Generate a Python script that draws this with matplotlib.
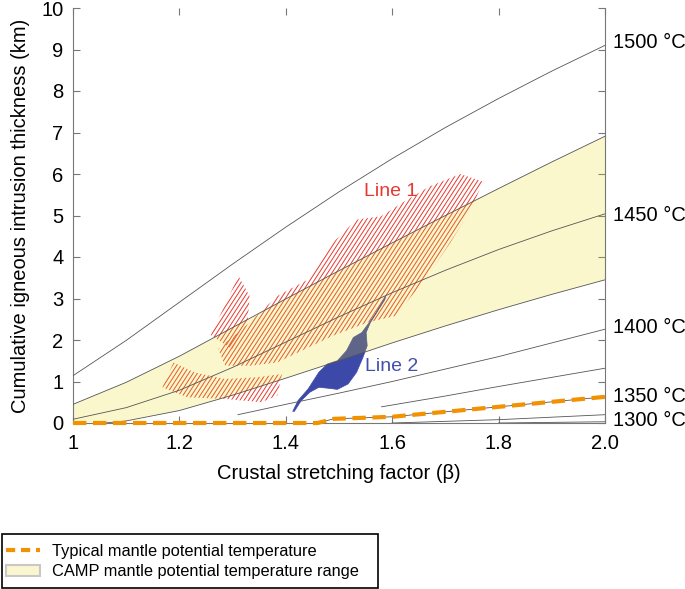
import numpy as np
import matplotlib
matplotlib.use("Agg")
import matplotlib.pyplot as plt
from matplotlib.patches import Polygon, Patch, Rectangle
from matplotlib.lines import Line2D
from matplotlib.collections import LineCollection

plt.rcParams['font.family'] = ['Liberation Sans', 'DejaVu Sans']

# ---------------- data ----------------
beta_grid = [1.0, 1.1, 1.2, 1.3, 1.4, 1.5, 1.6, 1.7, 1.8, 1.9, 2.0]
t1500 = [1.14, 1.99, 2.91, 3.83, 4.72, 5.57, 6.37, 7.12, 7.82, 8.48, 9.10]
t1475 = [0.45, 0.98, 1.61, 2.30, 2.99, 3.67, 4.34, 5.00, 5.65, 6.29, 6.91]
t1450 = [0.09, 0.37, 0.79, 1.34, 1.95, 2.56, 3.14, 3.68, 4.18, 4.63, 5.04]

b1425 = [1.06, 1.1, 1.2, 1.3, 1.4, 1.5, 1.6, 1.7, 1.8, 1.9, 2.0]
t1425 = [0.0, 0.05, 0.30, 0.67, 1.08, 1.50, 1.93, 2.34, 2.73, 3.10, 3.45]

b1400 = [1.31, 1.4, 1.5, 1.6, 1.7, 1.8, 1.9, 2.0]
t1400 = [0.20, 0.45, 0.72, 1.00, 1.30, 1.60, 1.93, 2.26]

b1375 = [1.58, 1.7, 1.8, 1.9, 2.0]
t1375 = [0.39, 0.65, 0.88, 1.10, 1.32]

b1350 = [1.46, 1.49, 1.6, 1.7, 1.8, 1.9, 2.0]
t1350 = [0.0, 0.10, 0.15, 0.27, 0.39, 0.51, 0.63]

b1325 = [1.6, 1.8, 2.0]
t1325 = [0.0, 0.08, 0.20]

b1300 = [1.8, 2.0]
t1300 = [0.0, 0.03]

temp_labels = ['1500 °C', '1450 °C', '1400 °C', '1350 °C', '1300 °C']
temp_label_y = [9.16, 5.0, 2.3, 0.65, 0.05]

legend_labels = ['Typical mantle potential temperature',
                 'CAMP mantle potential temperature range']

# Line 1 (hatched regions), beta / km
line1_a_beta = [1.259, 1.311, 1.332, 1.328, 1.299]
line1_a_km = [2.12, 3.54, 3.06, 2.42, 1.78]
line1_b_beta = [1.273, 1.332, 1.384, 1.442, 1.488, 1.533, 1.579, 1.618, 1.670, 1.728,
                1.770, 1.754, 1.709, 1.657, 1.605, 1.553, 1.488, 1.436, 1.384, 1.332, 1.286]
line1_b_km = [1.78, 2.42, 3.06, 3.46, 4.34, 4.90, 4.98, 5.30, 5.70, 6.00,
              5.82, 5.30, 4.34, 3.38, 2.58, 2.42, 2.10, 1.78, 1.46, 1.38, 1.38]
line1_c_beta = [1.168, 1.189, 1.228, 1.286, 1.345, 1.393, 1.384, 1.354, 1.286, 1.215]
line1_c_km = [0.86, 1.46, 1.22, 1.06, 1.10, 1.18, 0.66, 0.50, 0.58, 0.62]

# Line 2 (solid region)
line2_beta = [1.413, 1.423, 1.442, 1.462, 1.478, 1.497, 1.514, 1.527, 1.543, 1.566, 1.588,
              1.586, 1.559, 1.551, 1.553, 1.545, 1.533, 1.517, 1.497, 1.478, 1.462, 1.445,
              1.429, 1.416]
line2_km = [0.28, 0.54, 0.82, 1.22, 1.42, 1.50, 1.74, 2.06, 2.18, 2.58, 3.06,
            2.97, 2.42, 2.18, 1.86, 1.58, 1.22, 0.94, 0.81, 0.84, 0.86, 0.74,
            0.54, 0.28]

# ---------------- figure ----------------
W, H = 685, 589
fig = plt.figure(figsize=(W / 100, H / 100), dpi=100)
ax = fig.add_axes([73 / W, 1 - 423 / H, (605 - 73) / W, (423 - 8) / H])
ax.set_xlim(1, 2)
ax.set_ylim(0, 10)

red = '#e8392f'
blue = '#3d49a8'
curve_c = '#555555'
orange = '#f39200'


def hatch_region(xs, ys, color, spacing=3.6, angle=57, lw=0.7):
    poly = Polygon(np.column_stack([xs, ys]), closed=True, facecolor='none',
                   edgecolor='none', transform=ax.transData)
    ax.add_patch(poly)
    pts = ax.transData.transform(np.column_stack([xs, ys]))
    a = np.deg2rad(angle)
    d = np.array([np.cos(a), np.sin(a)])
    n = np.array([-np.sin(a), np.cos(a)])
    proj = pts @ n
    L = 2000
    inv = ax.transData.inverted()
    segs = []
    for o in np.arange(proj.min() - spacing, proj.max() + spacing, spacing):
        c = o * n
        segs.append(inv.transform(np.vstack([c - L * d, c + L * d])))
    lc = LineCollection(segs, colors=color, linewidths=lw, zorder=1)
    lc.set_clip_path(poly)
    ax.add_collection(lc)


for xs, ys in [(line1_a_beta, line1_a_km), (line1_b_beta, line1_b_km), (line1_c_beta, line1_c_km)]:
    hatch_region(xs, ys, red)

ax.add_patch(Polygon(np.column_stack([line2_beta, line2_km]), closed=True,
                     facecolor=blue, edgecolor=blue, linewidth=0.5, zorder=1.5))

# CAMP band
bg = np.array(beta_grid)
lower = np.interp(bg, b1425, t1425, left=0.0)
ax.fill_between(bg, lower, t1475, facecolor=(230 / 255, 215 / 255, 5 / 255), alpha=0.2,
                linewidth=0, zorder=2)

for bx, ty in [(beta_grid, t1500), (beta_grid, t1475), (beta_grid, t1450), (b1425, t1425),
               (b1400, t1400), (b1375, t1375), (b1350, t1350), (b1325, t1325), (b1300, t1300)]:
    ax.plot(bx, ty, color=curve_c, lw=0.6, zorder=3)

typ_beta = [1.0] + b1350
typ_km = [0.0] + t1350
ax.plot(typ_beta, typ_km, color=orange, lw=3.0, dashes=(3.2, 1.6), zorder=4, clip_on=False,
        solid_capstyle='butt', dash_capstyle='butt')

for lab, yv in zip(temp_labels, temp_label_y):
    ax.annotate(lab, xy=(1, yv), xycoords=('axes fraction', 'data'), xytext=(6, 0),
                textcoords='offset points', va='center', ha='left', fontsize=14.5)

ax.text(1.547, 5.58, 'Line 1', color=red, fontsize=14, va='center', ha='left', zorder=5)
ax.text(1.549, 1.37, 'Line 2', color='#4350ad', fontsize=14, va='center', ha='left', zorder=5)

ax.set_xticks([1, 1.2, 1.4, 1.6, 1.8, 2.0])
ax.set_xticklabels(['1', '1.2', '1.4', '1.6', '1.8', '2.0'])
ax.set_yticks(range(0, 11))
ax.tick_params(direction='in', length=5, width=0.8, color='#777777', top=True, right=True,
               labelsize=14.5, labelright=False)
ax.tick_params(axis='x', pad=8)
ax.tick_params(axis='y', pad=7)
ax.spines['top'].set_visible(False)
for s in ['left', 'right', 'bottom']:
    ax.spines[s].set_color('#777777')
    ax.spines[s].set_linewidth(0.8)

ax.set_xlabel('Crustal stretching factor (β)', fontsize=14.5, labelpad=8)
ax.set_ylabel('Cumulative igneous intrusion thickness (km)', fontsize=14.5, labelpad=8)

# legend box (frame drawn separately)
fig.patches.append(Rectangle((1.5 / W, 1 - 588 / H), 376 / W, 54 / H, transform=fig.transFigure,
                             facecolor='white', edgecolor='black', linewidth=1.2, zorder=0))
handles = [Line2D([0], [0], color=orange, lw=3.0, dashes=(2.2, 1.4)),
           Patch(facecolor='#faf6cf', edgecolor='#c8c8c8', linewidth=1.5)]
leg = fig.legend(handles, legend_labels, loc='upper left',
                 bbox_to_anchor=(6 / W, 1 - 544 / H), fontsize=11.8, frameon=False,
                 handlelength=2.1, handletextpad=0.7, borderpad=0, labelspacing=0.32,
                 borderaxespad=0)

fig.savefig('out.png', dpi=100)
